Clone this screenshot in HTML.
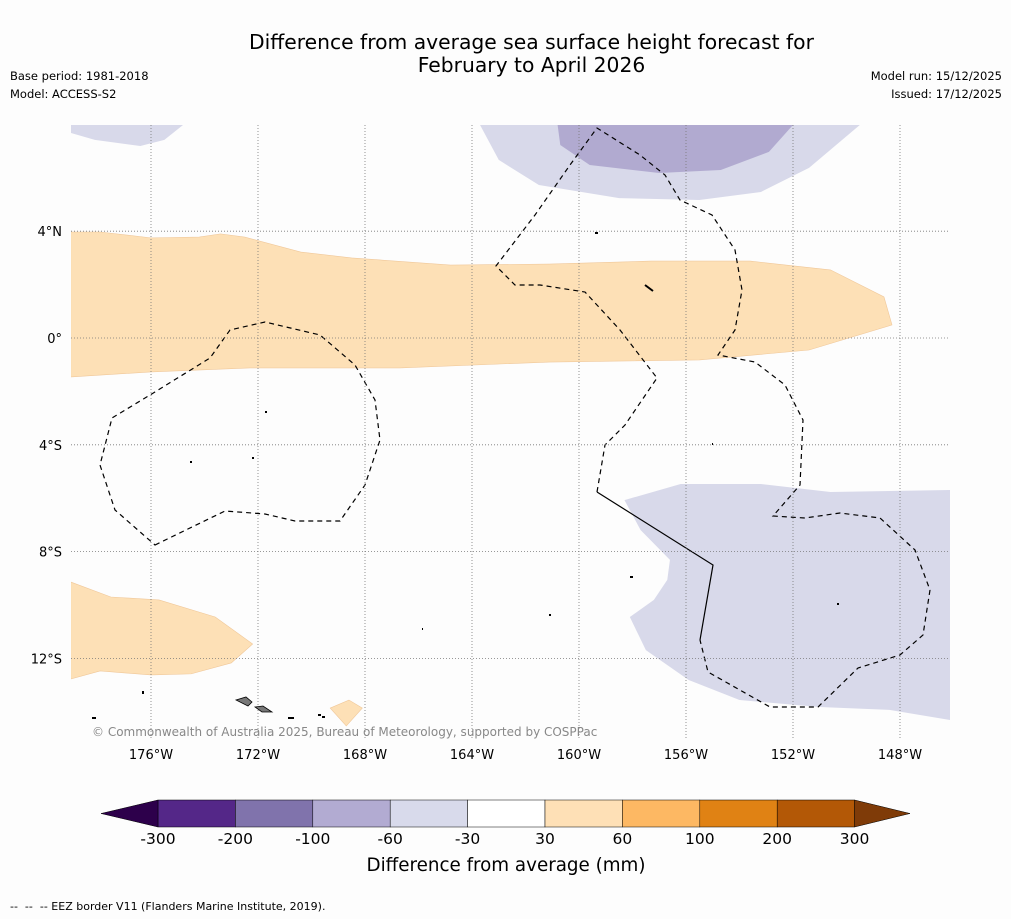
<!DOCTYPE html>
<html><head><meta charset="utf-8">
<style>
body{margin:0;background:#fdfdfd;font-family:"DejaVu Sans","Liberation Sans",sans-serif;}
#root{position:relative;width:1011px;height:919px;overflow:hidden;background:#fdfdfd;}
.t{position:absolute;white-space:pre;}
</style></head>
<body>
<div id="root">
<div class="t" style="left:0;width:1063px;top:31px;text-align:center;font-size:20.3px;line-height:23px;color:#000">Difference from average sea surface height forecast for
February to April 2026</div>
<div class="t" style="left:10px;top:69px;font-size:11.5px">Base period: 1981-2018</div>
<div class="t" style="left:10px;top:87px;font-size:11.5px">Model: ACCESS-S2</div>
<div class="t" style="right:9px;top:69px;font-size:11.5px">Model run: 15/12/2025</div>
<div class="t" style="right:9px;top:87px;font-size:11.5px">Issued: 17/12/2025</div>
<svg id="svg" width="1011" height="919" style="position:absolute;left:0;top:0"></svg>
<div class="t" style="left:10px;top:900px;font-size:11px">--  --  -- EEZ border V11 (Flanders Marine Institute, 2019).</div>
</div>
<script>
const lonTicks=[-176,-172,-168,-164,-160,-156,-152,-148];
const latTicks=[4,0,-4,-8,-12];
const levels=[-300,-200,-100,-60,-30,30,60,100,200,300];
const levelColors=["#542788","#8073ac","#b2abd2","#d8daeb","#ffffff","#fee0b6","#fdb863","#e08214","#b35806"];
const orangeBand=[[-179,3.97],[-177.9,3.97],[-176,3.75],[-174.2,3.78],[-173.4,3.9],[-172.5,3.78],[-170.4,3.22],[-168.5,3.0],[-164.8,2.73],[-161.1,2.77],[-157.3,2.88],[-153.6,2.88],[-150.6,2.55],[-148.6,1.54],[-148.3,0.49],[-151.4,-0.45],[-155.5,-0.82],[-161.1,-0.9],[-166.7,-1.12],[-172.3,-1.12],[-176,-1.27],[-179,-1.46]];
const orangeSW=[[-179,-9.14],[-177.5,-9.7],[-175.7,-9.81],[-173.6,-10.45],[-172.2,-11.46],[-173.0,-12.17],[-174.5,-12.58],[-176,-12.62],[-177.9,-12.47],[-179,-12.77]];
const orangeSmall=[[-169.3,-13.86],[-168.6,-13.56],[-168.1,-13.86],[-168.7,-14.53]];
const lightNW=[[-179,7.98],[-179,7.68],[-178.1,7.42],[-176.4,7.19],[-175.5,7.42],[-174.8,7.98]];
const lightN=[[-163.7,7.98],[-163.0,6.67],[-161.5,5.73],[-158.5,5.24],[-155.5,5.17],[-153.2,5.47],[-151.4,6.37],[-149.5,7.98]];
const darkN=[[-160.8,7.98],[-160.7,7.23],[-159.6,6.48],[-157.0,6.18],[-154.7,6.29],[-152.9,6.97],[-152.0,7.98]];
const lightSE=[[-158.3,-6.07],[-156.2,-5.47],[-153.2,-5.47],[-150.6,-5.77],[-146.1,-5.69],[-146.1,-14.31],[-148.4,-13.93],[-151.0,-13.82],[-154.0,-13.56],[-155.9,-12.81],[-157.5,-11.69],[-158.1,-10.45],[-157.2,-9.81],[-156.7,-9.06],[-156.6,-8.31],[-157.7,-7.19]];
const X=lon=>151+(lon+176)*26.75, Y=lat=>338-lat*26.7;
const S=document.getElementById('svg'),NS='http://www.w3.org/2000/svg';
function mk(tag,attrs,parent){const e=document.createElementNS(NS,tag);for(const k in attrs)e.setAttribute(k,attrs[k]);(parent||S).appendChild(e);return e;}
const clip=mk('clipPath',{id:'mc'});mk('rect',{x:71,y:125,width:879,height:613},clip);
const g=mk('g',{'clip-path':'url(#mc)'});
function poly(pts,fill,stroke,name){const p=mk('polygon',{points:pts.map(q=>X(q[0])+','+Y(q[1])).join(' '),fill:fill,stroke:stroke,'stroke-width':0.6},g);

}
poly(orangeBand,'#fde0b6','#f0c89a','anomaly-positive-equatorial');
poly(orangeSW,'#fde0b6','#f0c89a','anomaly-positive-southwest');
poly(orangeSmall,'#fde0b6','#f0c89a','anomaly-positive-small');
poly(lightNW,'#d8d9ea','none','anomaly-negative-northwest');
poly(lightN,'#d8d9ea','none','anomaly-negative-north');
poly(darkN,'#b1aad0','none','anomaly-strong-negative-north');
poly(lightSE,'#d8d9ea','none','anomaly-negative-southeast');
lonTicks.forEach(l=>{const x=X(l);const ln=mk('line',{x1:x,x2:x,y1:125,y2:738,stroke:'#777','stroke-width':0.8,'stroke-dasharray':'1,2'});


const t=mk('text',{x:x,y:759,'text-anchor':'middle','font-size':13});t.textContent=Math.abs(l)+'°W';

});
latTicks.forEach(l=>{const y=Y(l);const ln=mk('line',{x1:71,x2:950,y1:y,y2:y,stroke:'#777','stroke-width':0.8,'stroke-dasharray':'1,2'});


const t=mk('text',{x:62,y:y+5,'text-anchor':'end','font-size':13});t.textContent=l===0?'0°':Math.abs(l)+'°'+(l>0?'N':'S');

});
const e1=mk('path',{d:'M155,545 L225,511 L265,514 L295,521 L340,521 L365,485 L380,440 L375,400 L355,365 L320,335 L265,322 L230,330 L210,358 L150,395 L112,418 L100,465 L115,510 Z',fill:'none',stroke:'#000','stroke-width':1.2,'stroke-dasharray':'5,4'},g);


const e2=mk('path',{d:'M597,492 L605,445 L625,425 L657,378 L620,330 L585,292 L540,285 L515,285 L496,266 L535,215 L570,165 L597,128 L640,155 L665,175 L680,200 L712,215 L735,250 L742,290 L735,330 L718,355 L755,362 L785,385 L803,420 L800,485 L773,516 L805,518 L840,513 L880,518 L915,550 L930,590 L923,635 L900,655 L858,668 L818,707 L770,707 L708,672 L700,640',fill:'none',stroke:'#000','stroke-width':1.2,'stroke-dasharray':'5,4'},g);


const e3=mk('path',{d:'M597,492 L713,565 L700,640',fill:'none',stroke:'#000','stroke-width':1.2},g);


const isl=mk('path',{d:'M236,700 L246,697 L252,702 L248,706 Z M255,707 L263,706 L272,712 L262,712 Z',fill:'#777',stroke:'#000','stroke-width':0.8},g);


const dots=mk('path',{d:'M288,718h6M318,715h3M322,717h3M92,718h4M143,691v3M595,233h3M645,285l8,6M712,444h1M549,615h2M630,577h3M838,603v2M190,462h2M265,412h2M252,458h2M422,629h1',stroke:'#000','stroke-width':2,fill:'none'},g);


const cp=mk('text',{x:92,y:736,'font-size':12,fill:'#888'});cp.textContent='© Commonwealth of Australia 2025, Bureau of Meteorology, supported by COSPPac';


const cbX=i=>158+i*77.4, cy=800, ch=27;
for(let i=0;i<levelColors.length;i++){const r=mk('rect',{x:cbX(i),y:cy,width:77.4,height:ch,fill:levelColors[i],stroke:'#000','stroke-width':0.5});

}
const lt=mk('polygon',{points:`${cbX(0)},${cy} 101,${cy+ch/2} ${cbX(0)},${cy+ch}`,fill:'#2d004b',stroke:'#000','stroke-width':0.5});


const n=levelColors.length;
const rt=mk('polygon',{points:`${cbX(n)},${cy} 910,${cy+ch/2} ${cbX(n)},${cy+ch}`,fill:'#7f3b08',stroke:'#000','stroke-width':0.5});


levels.forEach((v,i)=>{const t=mk('text',{x:cbX(i),y:844,'text-anchor':'middle','font-size':15.5});t.textContent=v;

});
const cl=mk('text',{x:506,y:871,'text-anchor':'middle','font-size':18.3});cl.textContent='Difference from average (mm)';


</script>
</body></html>
